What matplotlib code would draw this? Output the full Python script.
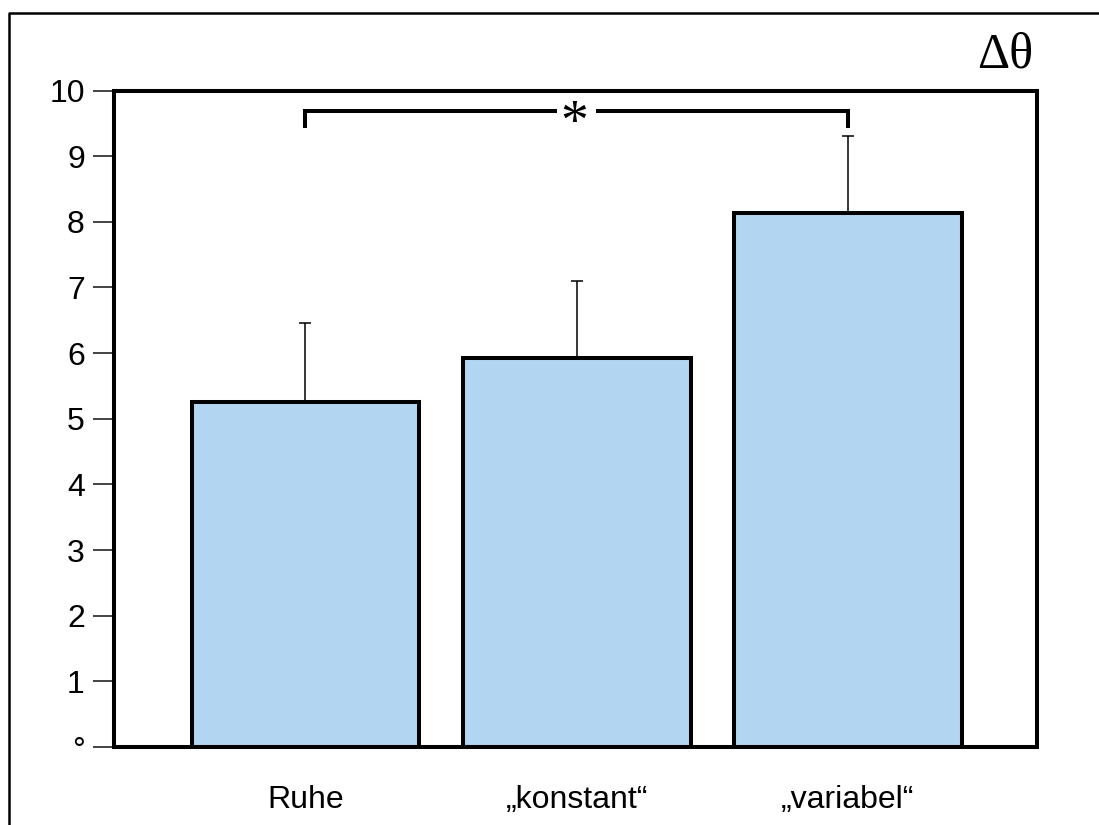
import matplotlib
matplotlib.use("Agg")
import matplotlib.pyplot as plt
from matplotlib.lines import Line2D

# Data
categories = ["Ruhe", "\u201ekonstant\u201c", "\u201evariabel\u201c"]
means = [5.26, 5.92, 8.14]
err_upper = [1.20, 1.18, 1.16]
y_ticks = [0, 1, 2, 3, 4, 5, 6, 7, 8, 9, 10]
y_tick_labels = ["\u00b0", "1", "2", "3", "4", "5", "6", "7", "8", "9", "10"]
sig_pair = (0, 2)
sig_label = "*"
sig_top = 9.69
sig_bottom = 9.43
y_label = "\u0394\u03b8"

SANS = ["Liberation Sans", "DejaVu Sans"]
SERIF = ["Liberation Serif", "DejaVu Serif"]
plt.rcParams["font.family"] = SANS

fig = plt.figure(figsize=(10.99, 8.25), dpi=100)
ax = fig.add_axes([0.1037, 0.0945, 0.8399, 0.7958])

x = list(range(len(categories)))
ax.errorbar(x, means, yerr=[[0] * len(means), err_upper], fmt="none",
            ecolor="black", elinewidth=1.1, capsize=4.3, capthick=1.1, zorder=1)
ax.bar(x, means, width=0.84, color="#B2D6F2", edgecolor="black",
       linewidth=2.9, zorder=2)

ax.set_xlim(-0.706, 2.697)
ax.set_ylim(0, 10)

for s in ax.spines.values():
    s.set_linewidth(2.9)
    s.set_color("black")

ax.set_yticks(y_ticks)
ax.set_yticklabels(y_tick_labels)
ax.tick_params(axis="y", direction="out", length=15, width=1.1,
               color="#111111", labelsize=23, pad=6)
ax.set_xticks(x)
ax.set_xticklabels(categories)
ax.tick_params(axis="x", length=0, labelsize=23, pad=27)

# significance bracket, split around the asterisk
x0, x1 = sig_pair
mid = (x0 + x1) / 2
gap = 0.072
bracket_style = dict(color="black", lw=2.9, solid_joinstyle="miter",
                     solid_capstyle="butt", clip_on=False, zorder=3)
ax.plot([x0, x0, mid - gap], [sig_bottom, sig_top, sig_top], **bracket_style)
ax.plot([mid + gap, x1, x1], [sig_top, sig_top, sig_bottom], **bracket_style)
ax.annotate(sig_label, xy=(mid - 0.01, sig_top), xytext=(0, -20),
            textcoords="offset points", ha="center", va="baseline",
            fontsize=40, family=SERIF, zorder=4)

fig.text(1033 / 1099, 1 - 67 / 825, y_label, ha="right", va="baseline",
         fontsize=36, family=SERIF)

# outer frame (left and top edges)
fig.add_artist(Line2D([9 / 1099, 9 / 1099, 1.0], [0.0, 1 - 13 / 825, 1 - 13 / 825],
                      transform=fig.transFigure, color="black", lw=1.8))

fig.savefig("out.png", dpi=100)
